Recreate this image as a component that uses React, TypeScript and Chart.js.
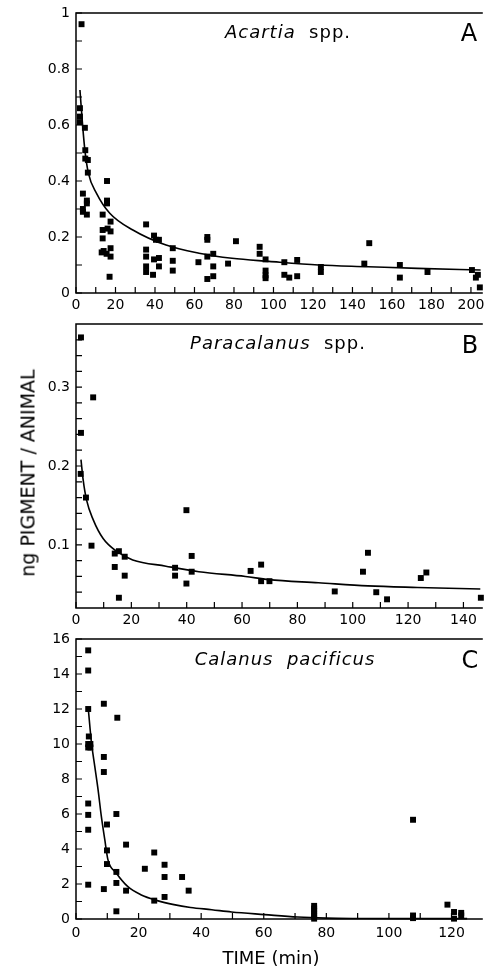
import React, { useEffect, useRef } from "react";
import { Chart, registerables } from "chart.js";

Chart.register(...registerables);

// ---------- Panel A: Acartia spp. ----------
const aTime = [2.8, 2, 2, 2, 4.5, 4.7, 4.7, 6, 6, 3.5, 5.5, 5.5, 3.5, 3.5, 5.5, 15.7, 15.7, 15.7, 13.5, 13.5, 16, 13.5, 17.5, 17.5, 13, 15.5, 17.5, 17.5, 14, 17, 35.5, 35.5, 35.5, 35.5, 35.5, 39.5, 40.5, 42, 39.5, 42, 39, 42, 49, 49, 49, 62, 66.5, 66.5, 66.5, 69.5, 69.5, 66.5, 69.5, 77, 81, 93, 93, 96, 96, 96, 96, 105.5, 105.5, 108, 112, 112, 124, 124, 148.5, 146, 164, 164, 178, 200.5, 203.5, 202.5, 204.5];
const aPigment = [0.96, 0.66, 0.63, 0.61, 0.59, 0.51, 0.48, 0.475, 0.43, 0.355, 0.33, 0.32, 0.3, 0.29, 0.28, 0.4, 0.33, 0.32, 0.28, 0.225, 0.23, 0.195, 0.255, 0.22, 0.145, 0.14, 0.16, 0.13, 0.15, 0.058, 0.245, 0.155, 0.13, 0.095, 0.075, 0.205, 0.19, 0.19, 0.12, 0.125, 0.065, 0.095, 0.16, 0.115, 0.08, 0.11, 0.2, 0.19, 0.13, 0.14, 0.095, 0.05, 0.06, 0.105, 0.185, 0.165, 0.14, 0.12, 0.08, 0.063, 0.053, 0.11, 0.065, 0.055, 0.118, 0.06, 0.093, 0.075, 0.178, 0.105, 0.1, 0.055, 0.075, 0.082, 0.065, 0.055, 0.02];
const aCurveTime = [2.0, 3.4, 4.5, 6.2, 10.4, 17.1, 28.8, 45.6, 62.3, 79, 97.7, 122.8, 147.9, 173, 204.9];
const aCurvePigment = [0.725, 0.594, 0.51, 0.43, 0.356, 0.285, 0.225, 0.171, 0.142, 0.124, 0.113, 0.1, 0.094, 0.088, 0.082];
const aXTicks = [0, 10, 20, 30, 40, 50, 60, 70, 80, 90, 100, 110, 120, 130, 140, 150, 160, 170, 180, 190, 200];
const aXLabels = [0, 20, 40, 60, 80, 100, 120, 140, 160, 180, 200];
const aYTicks = [0, 0.1, 0.2, 0.3, 0.4, 0.5, 0.6, 0.7, 0.8, 0.9, 1];
const aYLabels = [0, 0.2, 0.4, 0.6, 0.8, 1];

// ---------- Panel B: Paracalanus spp. ----------
const bTime = [1.8, 6.2, 1.8, 1.7, 3.6, 5.6, 14, 15.5, 17.6, 14, 17.6, 15.5, 35.8, 35.8, 39.9, 39.9, 41.8, 41.8, 63.1, 66.9, 66.9, 69.9, 93.5, 103.7, 105.5, 108.5, 112.4, 124.6, 126.6, 146.3];
const bPigment = [0.363, 0.287, 0.242, 0.19, 0.16, 0.099, 0.089, 0.092, 0.085, 0.072, 0.061, 0.033, 0.071, 0.061, 0.144, 0.051, 0.086, 0.066, 0.067, 0.075, 0.054, 0.054, 0.041, 0.066, 0.09, 0.04, 0.031, 0.058, 0.065, 0.033];
const bCurveTime = [1.8, 2.6, 3.8, 6.2, 9.8, 14.6, 20.5, 32.5, 44.4, 61.2, 69.6, 87.6, 105.5, 123.4, 146.1];
const bCurvePigment = [0.208, 0.182, 0.157, 0.132, 0.108, 0.092, 0.081, 0.073, 0.066, 0.06, 0.056, 0.052, 0.048, 0.046, 0.044];
const bXTicks = [0, 10, 20, 30, 40, 50, 60, 70, 80, 90, 100, 110, 120, 130, 140];
const bXLabels = [0, 20, 40, 60, 80, 100, 120, 140];
const bYTicks = [0.04, 0.06, 0.08, 0.1, 0.12, 0.14, 0.16, 0.18, 0.2, 0.22, 0.24, 0.26, 0.28, 0.3, 0.32, 0.34, 0.36];
const bYLabels = [0.1, 0.2, 0.3];

// ---------- Panel C: Calanus pacificus ----------
const cTime = [3.9, 3.9, 3.9, 4.1, 3.9, 4.6, 3.9, 4.6, 3.9, 3.9, 3.9, 3.9, 8.9, 8.9, 8.9, 9.9, 9.9, 9.9, 8.9, 13.2, 12.9, 12.9, 12.9, 12.9, 16, 16, 22, 25, 25, 28.3, 28.3, 28.3, 33.9, 36, 107.7, 76.1, 76.1, 76.1, 76.1, 76.1, 76.1, 107.7, 107.7, 118.7, 120.8, 123.1, 123.1, 120.8];
const cPigment = [15.35, 14.2, 12.0, 10.43, 10.0, 10.0, 9.8, 9.8, 6.6, 5.95, 5.1, 1.96, 12.3, 9.26, 8.4, 5.4, 3.92, 3.14, 1.71, 11.5, 6.0, 2.69, 2.06, 0.44, 4.25, 1.62, 2.87, 3.8, 1.05, 3.1, 2.4, 1.26, 2.4, 1.62, 5.67, 0.75, 0.6, 0.45, 0.3, 0.15, 0.02, 0.2, 0.05, 0.82, 0.4, 0.35, 0.2, 0.02];
const cCurveTime = [3.9, 4.95, 6.0, 7.05, 8.1, 9.2, 10.2, 12.85, 16.5, 20.7, 26, 31.3, 36.6, 43.4, 49.7, 60.3, 70.8, 80, 90, 110, 125];
const cCurvePigment = [12.06, 10.06, 8.72, 7.39, 5.86, 4.53, 3.39, 2.63, 1.86, 1.39, 1.05, 0.82, 0.66, 0.53, 0.4, 0.25, 0.11, 0.05, 0.03, 0.02, 0.02];
const cXTicks = [0, 10, 20, 30, 40, 50, 60, 70, 80, 90, 100, 110, 120];
const cXLabels = [0, 20, 40, 60, 80, 100, 120];
const cYTicks = [0, 1, 2, 3, 4, 5, 6, 7, 8, 9, 10, 11, 12, 13, 14, 15, 16];
const cYLabels = [0, 2, 4, 6, 8, 10, 12, 14, 16];

const FONT = "'DejaVu Sans', sans-serif";

const has = (arr: number[], v: number) => arr.some((a) => Math.abs(a - v) < 1e-6);

const framePlugin = {
  id: "frame",
  afterDraw(chart: any) {
    const { ctx, chartArea } = chart;
    const { left, right, top, bottom } = chartArea;
    const xs = chart.scales.x;
    const ys = chart.scales.y;
    ctx.save();
    ctx.strokeStyle = "#000";
    ctx.lineWidth = 1.5;
    ctx.beginPath();
    ctx.moveTo(right, top);
    ctx.lineTo(left, top);
    ctx.lineTo(left, bottom);
    ctx.lineTo(right, bottom);
    ctx.stroke();
    ctx.lineWidth = 1.2;
    ctx.beginPath();
    xs.ticks.forEach((t: any) => {
      const p = xs.getPixelForValue(t.value);
      ctx.moveTo(p, bottom);
      ctx.lineTo(p, bottom - 6);
    });
    ys.ticks.forEach((t: any) => {
      const p = ys.getPixelForValue(t.value);
      ctx.moveTo(left, p);
      ctx.lineTo(left + 6, p);
    });
    ctx.stroke();
    ctx.restore();
  },
};

type PanelProps = {
  top: number;
  height: number;
  padTop: number;
  xAxisH: number;
  xPad: number;
  xMax: number;
  yMin: number;
  yMax: number;
  xTicks: number[];
  xLabels: number[];
  yTicks: number[];
  yLabels: number[];
  time: number[];
  pigment: number[];
  curveTime: number[];
  curvePigment: number[];
};

function Panel(p: PanelProps) {
  const ref = useRef<HTMLCanvasElement>(null);
  useEffect(() => {
    if (!ref.current) return;
    const chart = new Chart(ref.current, {
      type: "scatter",
      data: {
        datasets: [
          {
            data: p.time.map((x, i) => ({ x, y: p.pigment[i] })),
            pointStyle: "rect",
            pointRadius: 4.2,
            backgroundColor: "#000",
            borderColor: "#000",
            borderWidth: 0,
            clip: false,
          } as any,
          {
            data: p.curveTime.map((x, i) => ({ x, y: p.curvePigment[i] })),
            showLine: true,
            pointRadius: 0,
            borderColor: "#000",
            borderWidth: 1.6,
            cubicInterpolationMode: "monotone",
            fill: false,
            clip: false,
          } as any,
        ],
      },
      options: {
        animation: false,
        responsive: false,
        maintainAspectRatio: false,
        events: [],
        layout: { padding: { top: p.padTop, left: 0, right: 0, bottom: 0 } },
        plugins: { legend: { display: false }, tooltip: { enabled: false } },
        scales: {
          x: {
            type: "linear",
            min: 0,
            max: p.xMax,
            grid: { display: false, drawTicks: false },
            border: { display: false },
            afterBuildTicks: (s: any) => {
              s.ticks = p.xTicks.map((v) => ({ value: v }));
            },
            afterFit: (s: any) => {
              s.height = p.xAxisH;
              s.paddingLeft = 0;
              s.paddingRight = 0;
            },
            ticks: {
              autoSkip: false,
              maxRotation: 0,
              minRotation: 0,
              padding: p.xPad,
              color: "#000",
              font: { family: FONT, size: 14 },
              callback: (v: any) => (has(p.xLabels, Number(v)) ? String(Math.round(Number(v))) : ""),
            },
          },
          y: {
            type: "linear",
            min: p.yMin,
            max: p.yMax,
            grid: { display: false, drawTicks: false },
            border: { display: false },
            afterBuildTicks: (s: any) => {
              s.ticks = p.yTicks.map((v) => ({ value: v }));
            },
            afterFit: (s: any) => {
              s.width = 76;
              s.paddingTop = 0;
              s.paddingBottom = 0;
            },
            ticks: {
              autoSkip: false,
              padding: 6,
              color: "#000",
              font: { family: FONT, size: 14 },
              callback: (v: any) => {
                const n = Number(v);
                if (!has(p.yLabels, n)) return "";
                return String(Math.round(n * 100) / 100);
              },
            },
          },
        },
      } as any,
      plugins: [framePlugin],
    });
    return () => chart.destroy();
  }, []);
  return (
    <canvas
      ref={ref}
      width={487}
      height={p.height}
      style={{ position: "absolute", left: 0, top: p.top, width: 487, height: p.height }}
    />
  );
}

function Label(props: { x: number; y: number; size: number; children: React.ReactNode; rotate?: boolean; spacing?: number }) {
  return (
    <div
      style={{
        position: "absolute",
        left: props.x,
        top: props.y,
        transform: `translate(-50%, -50%)${props.rotate ? " rotate(-90deg)" : ""}`,
        whiteSpace: "nowrap",
        fontFamily: FONT,
        fontSize: props.size,
        lineHeight: 1,
        color: "#000",
        letterSpacing: props.spacing ?? 0,
      }}
    >
      {props.children}
    </div>
  );
}

export default function App() {
  return (
    <div style={{ position: "absolute", left: 0, top: 0, width: 487, height: 968, background: "#fff", overflow: "hidden" }}>
      <Panel
        top={0} height={315} padTop={13} xAxisH={22} xPad={4}
        xMax={206} yMin={0} yMax={1}
        xTicks={aXTicks} xLabels={aXLabels} yTicks={aYTicks} yLabels={aYLabels}
        time={aTime} pigment={aPigment} curveTime={aCurveTime} curvePigment={aCurvePigment}
      />
      <Panel
        top={315} height={315} padTop={9} xAxisH={22} xPad={4}
        xMax={147} yMin={0.02} yMax={0.38}
        xTicks={bXTicks} xLabels={bXLabels} yTicks={bYTicks} yLabels={bYLabels}
        time={bTime} pigment={bPigment} curveTime={bCurveTime} curvePigment={bCurvePigment}
      />
      <Panel
        top={630} height={338} padTop={9} xAxisH={49} xPad={6}
        xMax={130} yMin={0} yMax={16}
        xTicks={cXTicks} xLabels={cXLabels} yTicks={cYTicks} yLabels={cYLabels}
        time={cTime} pigment={cPigment} curveTime={cCurveTime} curvePigment={cCurvePigment}
      />
      <Label x={288} y={32} size={18} spacing={1}>
        <i>Acartia</i>&nbsp; spp.
      </Label>
      <Label x={469} y={33} size={24}>A</Label>
      <Label x={278} y={343} size={18} spacing={1}>
        <i>Paracalanus</i>&nbsp; spp.
      </Label>
      <Label x={470} y={345} size={24}>B</Label>
      <Label x={285} y={659} size={18} spacing={1}>
        <i>Calanus&nbsp; pacificus</i>
      </Label>
      <Label x={470} y={660} size={24}>C</Label>
      <Label x={28} y={473} size={19} rotate>
        ng PIGMENT / ANIMAL
      </Label>
      <Label x={271} y={958} size={18}>
        TIME (min)
      </Label>
    </div>
  );
}
